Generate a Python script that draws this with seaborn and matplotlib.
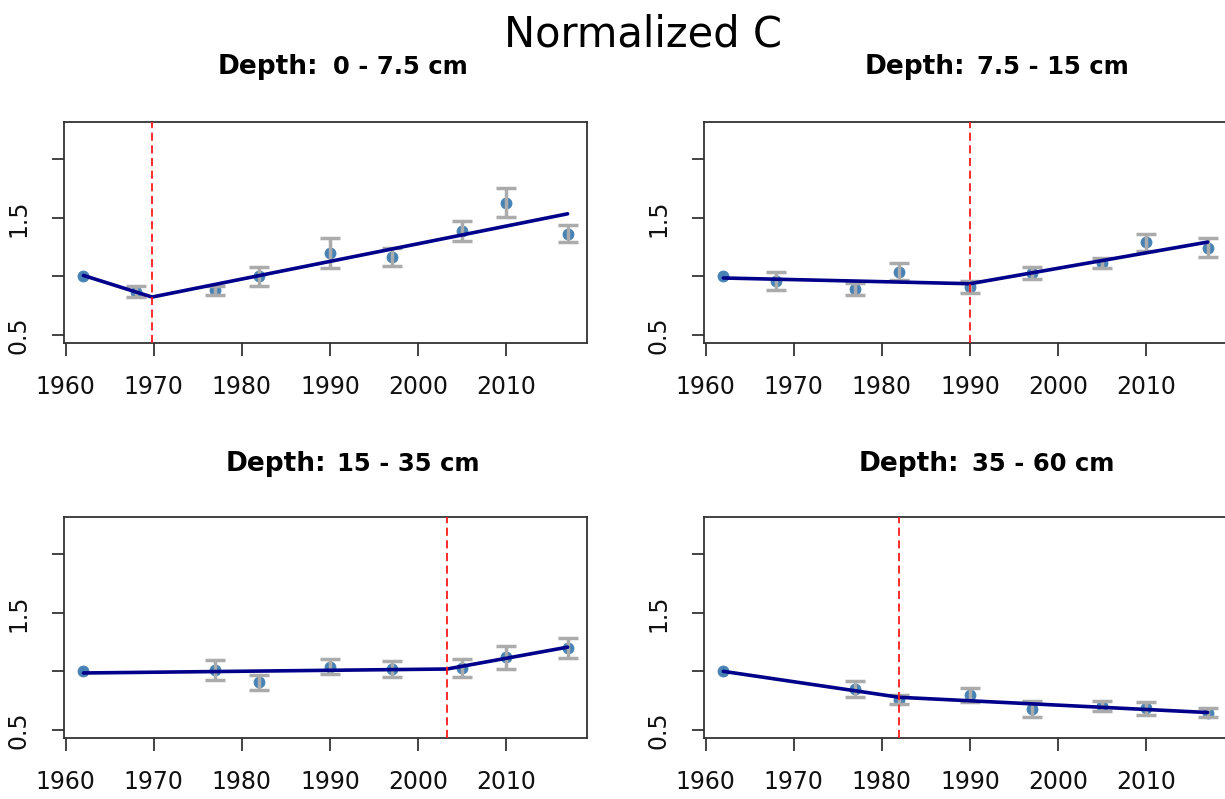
import numpy as np
import pandas as pd
import matplotlib
matplotlib.use("Agg")
import matplotlib.pyplot as plt
import seaborn as sns

# ---------------- data ----------------
depths = ["0 - 7.5 cm", "7.5 - 15 cm", "15 - 35 cm", "35 - 60 cm"]

years_a = [1962, 1968, 1977, 1982, 1990, 1997, 2005, 2010, 2017]
years_b = [1962, 1977, 1982, 1990, 1997, 2005, 2010, 2017]

mean_1 = [1.00, 0.87, 0.88, 1.00, 1.20, 1.165, 1.385, 1.63, 1.365]
se_1   = [0.00, 0.05, 0.04, 0.08, 0.125, 0.075, 0.085, 0.125, 0.07]
mean_2 = [1.00, 0.96, 0.89, 1.04, 0.91, 1.03, 1.115, 1.29, 1.245]
se_2   = [0.00, 0.075, 0.05, 0.07, 0.05, 0.05, 0.04, 0.07, 0.08]
mean_3 = [1.00, 1.015, 0.905, 1.04, 1.02, 1.03, 1.12, 1.20]
se_3   = [0.00, 0.085, 0.065, 0.062, 0.07, 0.075, 0.10, 0.088]
mean_4 = [1.00, 0.85, 0.757, 0.80, 0.68, 0.70, 0.683, 0.648]
se_4   = [0.00, 0.067, 0.04, 0.06, 0.067, 0.043, 0.053, 0.04]

breakpoints = [1969.8, 1990.0, 2003.3, 1982.0]
fit_y_1 = [1.008, 0.823, 1.535]
fit_y_2 = [0.986, 0.937, 1.293]
fit_y_3 = [0.986, 1.020, 1.207]
fit_y_4 = [1.000, 0.778, 0.648]

x_ticks = [1960, 1970, 1980, 1990, 2000, 2010]
y_ticks = [0.5, 1.0, 1.5, 2.0]
y_tick_labels = ["0.5", "", "1.5", ""]

panels = [
    (years_a, mean_1, se_1, fit_y_1),
    (years_a, mean_2, se_2, fit_y_2),
    (years_b, mean_3, se_3, fit_y_3),
    (years_b, mean_4, se_4, fit_y_4),
]

# ---------------- style ----------------
sns.set_theme(style="white")
plt.rcParams["font.family"] = ["DejaVu Sans"]

W, H = 1225, 799
fig = plt.figure(figsize=(W / 100, H / 100), dpi=100)

def px_rect(x0, y0, x1, y1):
    return [x0 / W, 1 - y1 / H, (x1 - x0) / W, (y1 - y0) / H]

rects = [
    px_rect(64, 122, 587, 343),
    px_rect(704, 122, 1227, 343),
    px_rect(64, 517, 587, 738),
    px_rect(704, 517, 1227, 738),
]

# subtitle positions: (right edge of "Depth:", left edge of value, baseline) in px
sub_pos = [(318, 333, 74), (965, 977, 74), (326, 337, 471), (959, 972, 471)]

for i, (yrs, m, se, fy) in enumerate(panels):
    ax = fig.add_axes(rects[i])
    df = pd.DataFrame({"year": yrs, "value": m, "se": se})
    sns.scatterplot(data=df, x="year", y="value", ax=ax, color="#4682B4",
                    edgecolor="#4682B4", s=62, zorder=2, legend=False)
    d = df[df["se"] > 0]
    ax.errorbar(d["year"], d["value"], yerr=d["se"], fmt="none",
                ecolor="#ABABAB", elinewidth=2.5, capsize=7, capthick=2.5,
                zorder=3)
    fit_df = pd.DataFrame({"year": [yrs[0], breakpoints[i], yrs[-1]], "fit": fy})
    sns.lineplot(data=fit_df, x="year", y="fit", ax=ax, color="#00008B",
                 linewidth=2.6, zorder=4, estimator=None, sort=False)
    ax.axvline(breakpoints[i], color="#FF1A1A", linewidth=1.3,
               linestyle=(0, (4.5, 2.5)), zorder=5)

    ax.set_xlim(1959.8, 2019.2)
    ax.set_ylim(0.43, 2.32)
    ax.set_xticks(x_ticks)
    ax.set_xticklabels([str(t) for t in x_ticks])
    ax.set_yticks(y_ticks)
    ax.set_yticklabels(y_tick_labels, rotation=90, va="center")
    ax.set_xlabel("")
    ax.set_ylabel("")
    ax.tick_params(axis="both", direction="out", length=9, width=1.2,
                   color="#222222", labelsize=17, labelcolor="#111111",
                   bottom=True, left=True)
    ax.tick_params(axis="x", pad=14)
    ax.tick_params(axis="y", pad=15)
    for sp in ax.spines.values():
        sp.set_visible(True)
        sp.set_color("#333333")
        sp.set_linewidth(1.3)
    ax.grid(False)

    rx, lx, by = sub_pos[i]
    fig.text(rx / W, 1 - by / H, "Depth:", ha="right", va="baseline",
             fontsize=19, fontweight="bold", color="black")
    fig.text(lx / W, 1 - by / H, depths[i], ha="left", va="baseline",
             fontsize=17.5, fontweight="bold", color="black")

fig.text(643.5 / W, 1 - 46.7 / H, "Normalized C", ha="center", va="baseline",
         fontsize=30, color="black")

fig.savefig("out.png", dpi=100)
